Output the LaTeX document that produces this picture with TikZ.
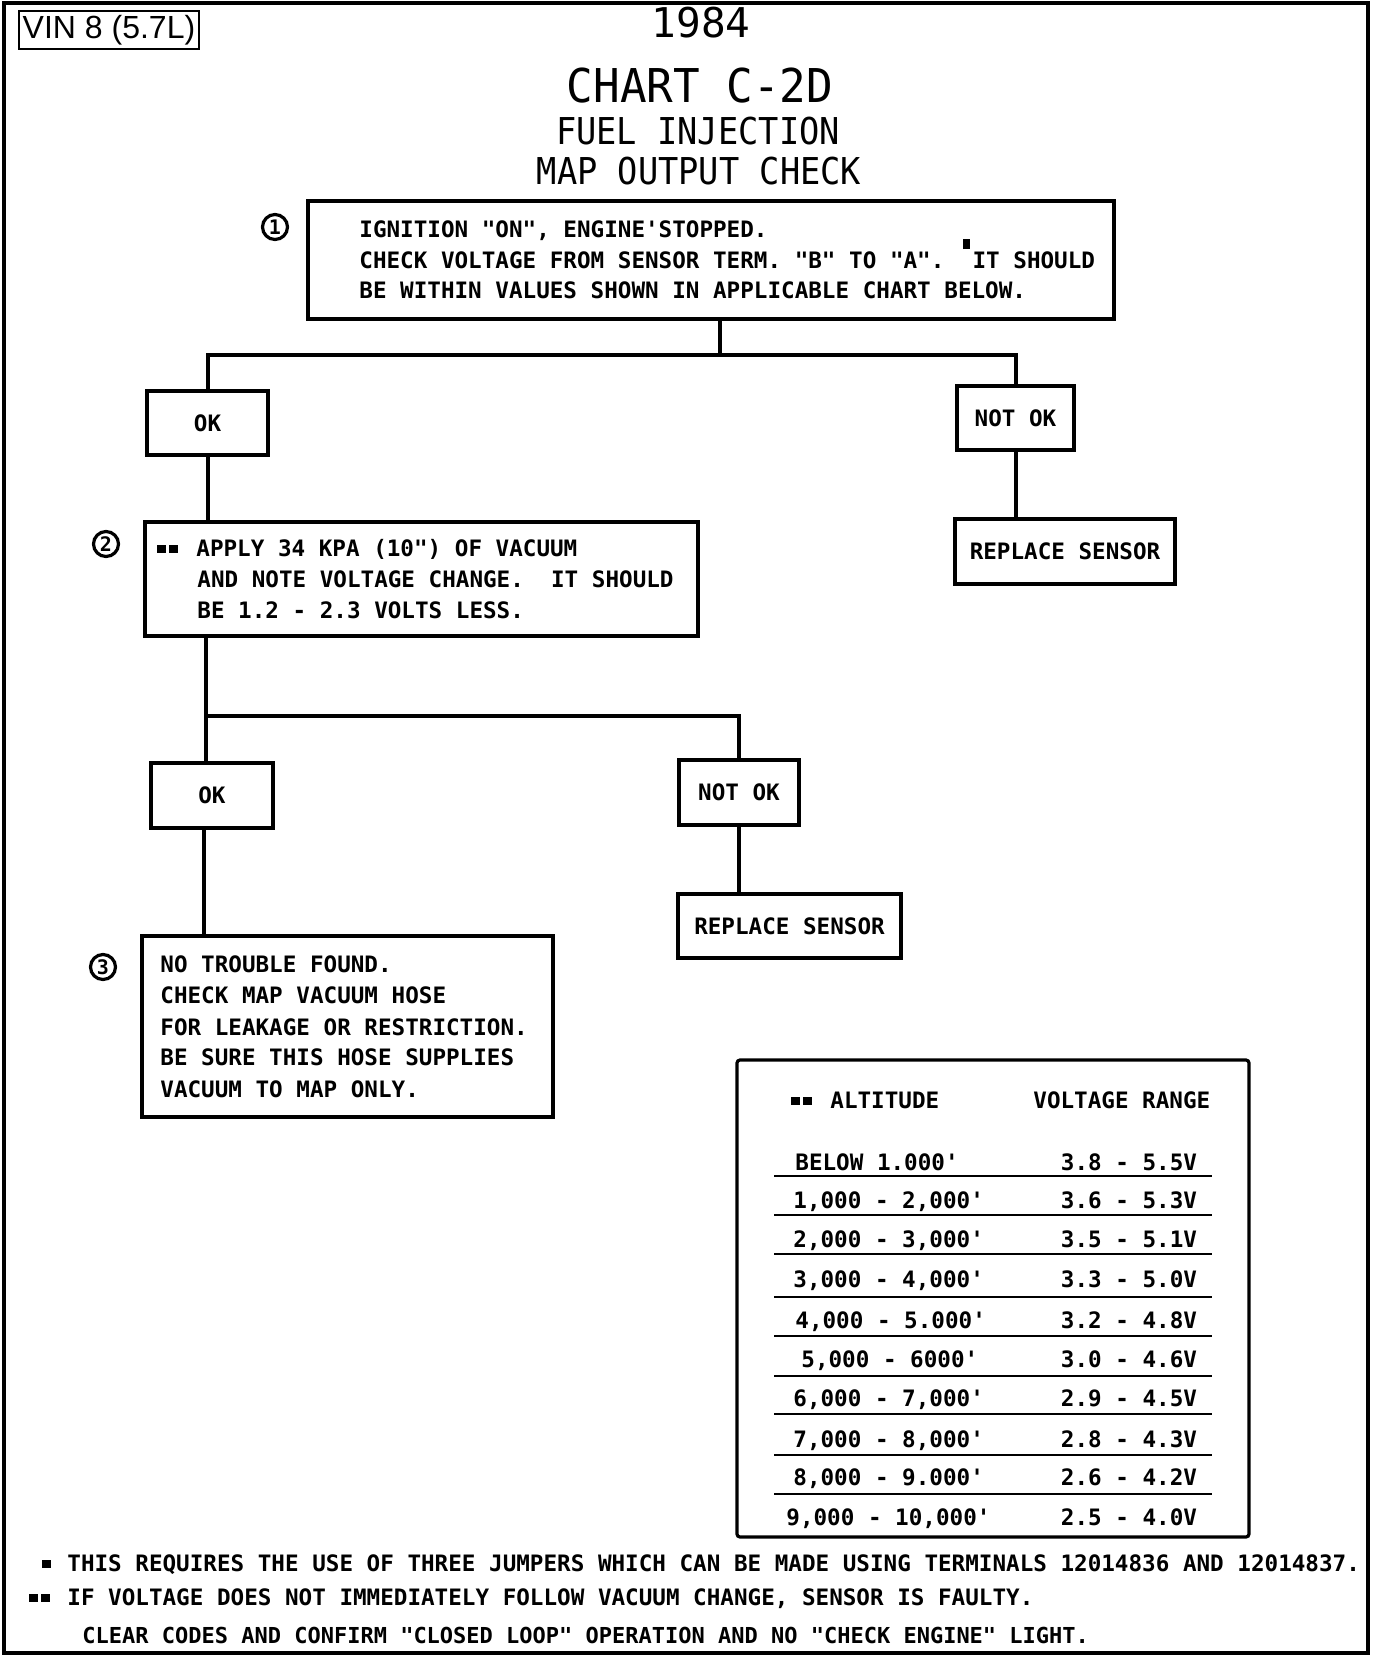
\documentclass[tikz,border=0pt]{standalone}
\usepackage{fontspec}
\usetikzlibrary{fit}
\newfontfamily\chartf{DejaVu Sans Mono}[Ligatures=TeXOff]
\newfontfamily\titlef{DejaVu Sans Mono}[Ligatures=TeXOff]
\newfontfamily\titlefc{DejaVu Sans Mono}[Ligatures=TeXOff,FakeStretch=0.95]
\newfontfamily\titlefn{DejaVu Sans Mono}[Ligatures=TeXOff,FakeStretch=0.91]
\newfontfamily\vinf{Liberation Sans}
\newcommand\bodyfont{\chartf\bfseries\fontsize{11.3}{13}\selectfont}
\newcommand\blk{\rule[1.5pt]{4.5pt}{4pt}}
\newcommand\blkk{\blk\hspace{1.5pt}\blk}
\newcommand\supblk{\raisebox{9.5pt}{\rule{3.5pt}{5pt}}}
\begin{document}
\begin{tikzpicture}[x=0.5pt,y=-0.5pt,
  box/.style={draw, line width=1.6pt, inner sep=0pt, rectangle},
  conn/.style={line width=2pt},
  txt/.style={anchor=base west, inner sep=0pt, font=\bodyfont},
  ctxt/.style={anchor=base, inner sep=0pt, font=\bodyfont},
  mtxt/.style={anchor=center, inner sep=0pt, font=\bodyfont},
  circ/.style={draw, circle, line width=1.6pt, minimum size=12.5pt, inner sep=0pt,
    font=\chartf\bfseries\fontsize{10}{10}\selectfont},
  rulel/.style={line width=1.2pt}
]
\useasboundingbox (0,0) rectangle (1392,1656);
% frame
\draw[line width=2.3pt] (4,3) rectangle (1368,1653);

% header
\node[draw, line width=1pt, inner sep=0pt, fit={(19,11) (199,49)}] (vin) {};
\node[anchor=center, inner sep=0pt, font=\vinf\fontsize{16}{16}\selectfont] (vint) at (vin.center) {VIN 8 (5.7L)};
\node[anchor=base, inner sep=0pt, font=\titlef\fontsize{20.5}{20.5}\selectfont] (yr) at (701,37) {1984};
\node[anchor=base, inner sep=0pt, font=\titlefc\fontsize{23.3}{23.3}\selectfont] (chart) at (700,102) {CHART C-2D};
\node[anchor=base, inner sep=0pt, font=\titlefn\fontsize{18.5}{18.5}\selectfont] (fuel) at (698,144) {FUEL INJECTION};
\node[anchor=base, inner sep=0pt, font=\titlefn\fontsize{18.5}{18.5}\selectfont] (map) at (699,184) {MAP OUTPUT CHECK};

% step 1
\node[circ] (n1) at (275,227) {1};
\node[box, fit={(308,201) (1114,319)}] (b1) {};
\node[txt] (t1a) at (359,237) {IGNITION "ON", ENGINE'STOPPED.};
\node[txt] (t1b) at (359,268) {CHECK VOLTAGE FROM SENSOR TERM. "B" TO "A". \supblk\hspace{1.5pt}IT SHOULD};
\node[txt] (t1c) at (359,298) {BE WITHIN VALUES SHOWN IN APPLICABLE CHART BELOW.};

\coordinate (j1) at (720,355);
\node[box, fit={(147,391) (268,455)}] (ok1) {};
\node[mtxt] (ok1t) at (ok1.center) {OK};
\node[box, fit={(957,386) (1074,450)}] (nok1) {};
\node[mtxt] (nok1t) at (nok1.center) {NOT OK};
\node[box, fit={(955,519) (1175,584)}] (rs1) {};
\node[mtxt] (rs1t) at (rs1.center) {REPLACE SENSOR};
\draw[conn] (j1 |- b1.south) -- (j1);
\draw[conn] (ok1.north) |- (j1) -| (nok1.north);
\draw[conn] (nok1.south) -- (nok1.south |- rs1.north);

% step 2
\node[circ] (n2) at (106,544) {2};
\node[box, fit={(145,522) (698,636)}] (b2) {};
\draw[conn] (ok1.south) -- (ok1.south |- b2.north);
\node[txt] (t2a) at (157,556) {\blkk\hspace{9pt}APPLY 34 KPA (10") OF VACUUM};
\node[txt] (t2b) at (197,587) {AND NOTE VOLTAGE CHANGE.~ IT SHOULD};
\node[txt] (t2c) at (197,618) {BE 1.2 - 2.3 VOLTS LESS.};

\coordinate (j2) at (206,716);
\node[box, fit={(151,763) (273,828)}] (ok2) {};
\node[mtxt] (ok2t) at (ok2.center) {OK};
\node[box, fit={(679,760) (799,825)}] (nok2) {};
\node[mtxt] (nok2t) at (nok2.center) {NOT OK};
\node[box, fit={(678,894) (901,958)}] (rs2) {};
\node[mtxt] (rs2t) at (rs2.center) {REPLACE SENSOR};
\draw[conn] (j2 |- b2.south) -- (j2 |- ok2.north);
\draw[conn] (j2) -| (nok2.north);
\draw[conn] (nok2.south) -- (nok2.south |- rs2.north);

% step 3
\node[circ] (n3) at (103,967) {3};
\node[box, fit={(142,936) (553,1117)}] (b3) {};
\coordinate (c3) at (204,828);
\draw[conn] (c3) -- (c3 |- b3.north);
\node[txt] (t3a) at (160,972) {NO TROUBLE FOUND.};
\node[txt] (t3b) at (160,1003) {CHECK MAP VACUUM HOSE};
\node[txt] (t3c) at (160,1035) {FOR LEAKAGE OR RESTRICTION.};
\node[txt] (t3d) at (160,1065) {BE SURE THIS HOSE SUPPLIES};
\node[txt] (t3e) at (160,1097) {VACUUM TO MAP ONLY.};

% table
\node[box, rounded corners=1.5pt, fit={(737,1060) (1249,1537)}] (tab) {};
\node[txt] (hsq) at (791,1108) {\blkk};
\node[txt] (halt) at (830,1108) {ALTITUDE};
\node[txt] (hvolt) at (1033,1108) {VOLTAGE RANGE};
\foreach \i/\a/\v/\y/\x in {
  1/{BELOW 1.000'}/{3.8 - 5.5V}/1170/795,
  2/{1,000 - 2,000'}/{3.6 - 5.3V}/1208/793,
  3/{2,000 - 3,000'}/{3.5 - 5.1V}/1247/793,
  4/{3,000 - 4,000'}/{3.3 - 5.0V}/1287/793,
  5/{4,000 - 5.000'}/{3.2 - 4.8V}/1328/795,
  6/{5,000 - 6000'}/{3.0 - 4.6V}/1367/801,
  7/{6,000 - 7,000'}/{2.9 - 4.5V}/1406/793,
  8/{7,000 - 8,000'}/{2.8 - 4.3V}/1447/793,
  9/{8,000 - 9.000'}/{2.6 - 4.2V}/1485/793,
  10/{9,000 - 10,000'}/{2.5 - 4.0V}/1525/786}{
  \node[txt] (alt\i) at (\x,\y) {\a};
  \node[ctxt] (volt\i) at (1129,\y) {\v};
}
\foreach \y in {1176,1215,1254,1297,1336,1376,1414,1455,1494}
  \draw[rulel] (774,\y) -- (1212,\y);

% footnotes
\node[txt] (f1) at (42,1571) {\blk\hspace{8pt}THIS REQUIRES THE USE OF THREE JUMPERS WHICH CAN BE MADE USING TERMINALS 12014836 AND 12014837.};
\node[txt] (f2) at (29,1605) {\blkk\hspace{8.5pt}IF VOLTAGE DOES NOT IMMEDIATELY FOLLOW VACUUM CHANGE, SENSOR IS FAULTY.};
\node[txt, font=\chartf\bfseries\fontsize{11}{13}\selectfont] (f3) at (82,1643) {CLEAR CODES AND CONFIRM "CLOSED LOOP" OPERATION AND NO "CHECK ENGINE" LIGHT.};
\end{tikzpicture}
\end{document}
